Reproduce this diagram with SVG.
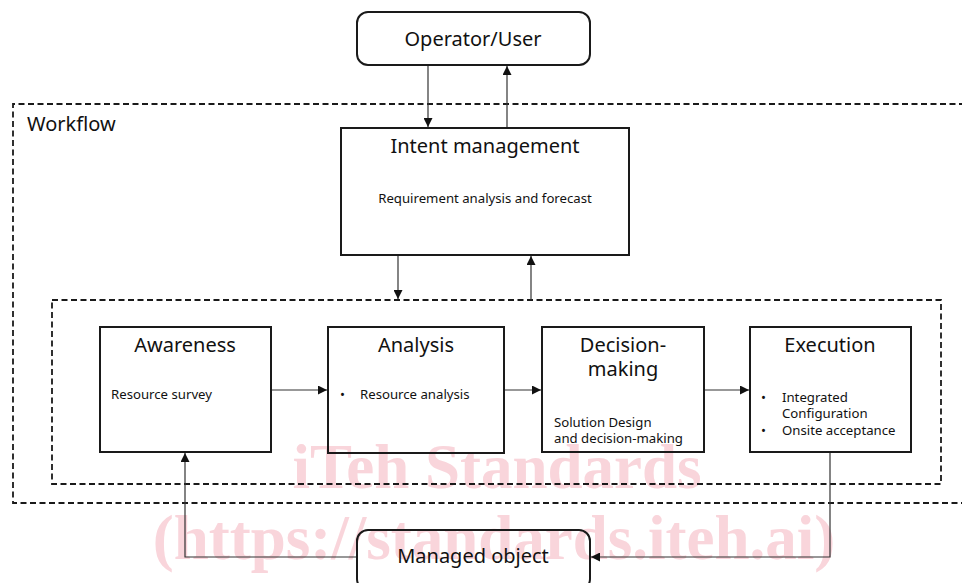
<svg xmlns="http://www.w3.org/2000/svg" width="962" height="583" viewBox="0 0 962 583">
<style>
.box{fill:none;stroke:#1a1a1a;stroke-width:2}
.dash{fill:none;stroke:#1a1a1a;stroke-width:1.8;stroke-dasharray:6 3.5}
.con{fill:none;stroke:#333;stroke-width:1.2}
.t{font-family:"Noto Sans","Open Sans",sans-serif;fill:#111}
.title{font-size:20px;text-anchor:middle}
.sub{font-size:13.2px}
.wm{font-family:"Liberation Serif",serif;font-weight:bold;font-size:63px;fill:#f9d5db;text-anchor:middle}
</style>
<defs>
<marker id="ah" viewBox="0 0 10 10" refX="10" refY="5" markerWidth="9" markerHeight="9" markerUnits="userSpaceOnUse" orient="auto">
<path d="M0,0 L10,5 L0,10 z" fill="#111"/>
</marker>
</defs>
<rect width="962" height="583" fill="#fff"/>
<g id="watermark">
<text class="wm" x="497" y="488">iTeh Standards</text>
<text class="wm" x="494" y="559">(https://standards.iteh.ai)</text>
</g>
<g id="workflow">
<path class="dash" d="M965,104 H13 V503 H965"/>
<text class="t" x="27" y="131" font-size="20">Workflow</text>
</g>
<g id="inner-loop">
<rect class="dash" x="52" y="300" width="889" height="184"/>
</g>
<g id="connectors">
<line class="con" x1="428" y1="65" x2="428" y2="127" marker-end="url(#ah)"/>
<line class="con" x1="507" y1="128" x2="507" y2="66" marker-end="url(#ah)"/>
<line class="con" x1="398" y1="255" x2="398" y2="299" marker-end="url(#ah)"/>
<line class="con" x1="531" y1="300" x2="531" y2="256" marker-end="url(#ah)"/>
<line class="con" x1="271" y1="390" x2="327" y2="390" marker-end="url(#ah)"/>
<line class="con" x1="504" y1="390" x2="541" y2="390" marker-end="url(#ah)"/>
<line class="con" x1="704" y1="390" x2="749" y2="390" marker-end="url(#ah)"/>
<polyline class="con" points="830,453 830,557 591,557" marker-end="url(#ah)"/>
<polyline class="con" points="357,557 185,557 185,453" marker-end="url(#ah)"/>
</g>
<g id="operator">
<rect class="box" x="357" y="12" width="233" height="53" rx="11"/>
<text class="t title" x="473" y="46">Operator/User</text>
</g>
<g id="intent">
<rect class="box" x="341" y="128" width="288" height="127"/>
<text class="t title" x="485" y="153">Intent management</text>
<text class="t sub" x="485" y="203" text-anchor="middle">Requirement analysis and forecast</text>
</g>
<g id="awareness">
<rect class="box" x="100" y="327" width="171" height="125"/>
<text class="t title" x="185" y="352">Awareness</text>
<text class="t sub" x="111" y="399">Resource survey</text>
</g>
<g id="analysis">
<rect class="box" x="328" y="327" width="176" height="126"/>
<text class="t title" x="416" y="352">Analysis</text>
<text class="t sub" x="340" y="399">•</text>
<text class="t sub" x="360" y="399">Resource analysis</text>
</g>
<g id="decision">
<rect class="box" x="542" y="327" width="162" height="125"/>
<text class="t title" x="623" y="352">Decision-</text>
<text class="t title" x="623" y="376">making</text>
<text class="t sub" x="554" y="427">Solution Design</text>
<text class="t sub" x="554" y="443">and decision-making</text>
</g>
<g id="execution">
<rect class="box" x="750" y="327" width="161" height="125"/>
<text class="t title" x="830" y="352">Execution</text>
<text class="t sub" x="761" y="402">•</text>
<text class="t sub" x="782" y="402">Integrated</text>
<text class="t sub" x="782" y="418">Configuration</text>
<text class="t sub" x="761" y="435">•</text>
<text class="t sub" x="782" y="435">Onsite acceptance</text>
</g>
<g id="managed">
<rect class="box" x="357" y="530" width="233" height="60" rx="11"/>
<text class="t title" x="473" y="563">Managed object</text>
</g>
</svg>
